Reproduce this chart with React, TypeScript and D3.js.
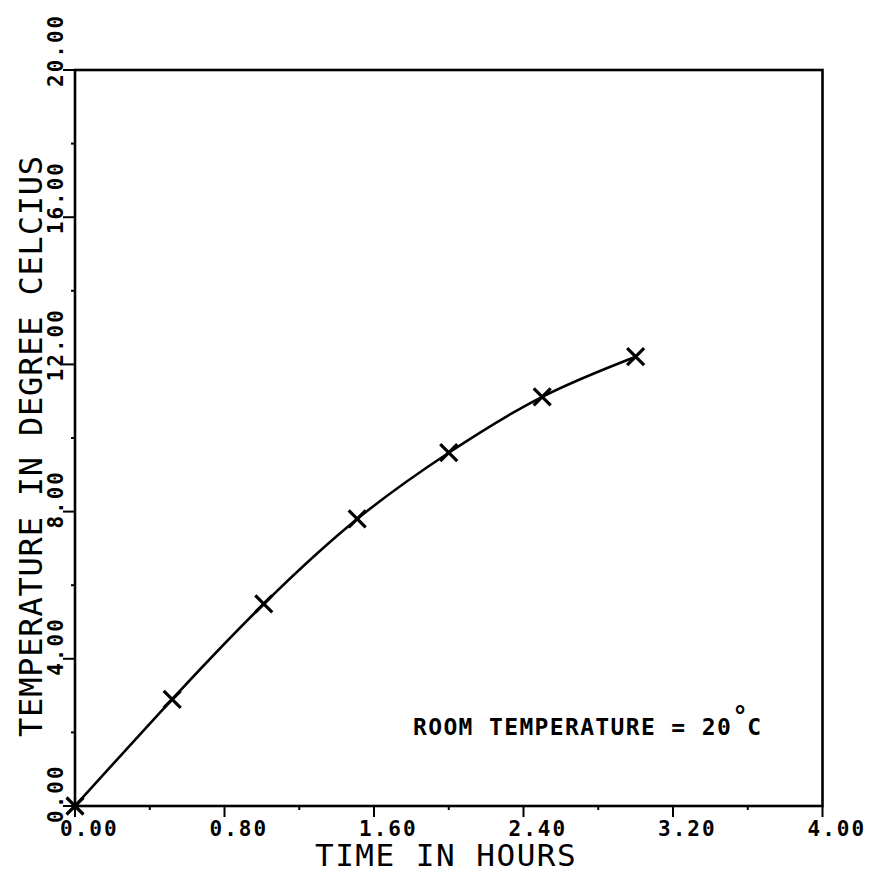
import React from "react";
import * as d3 from "d3";

const timeHours = [0, 0.52, 1.01, 1.51, 2.0, 2.5, 3.0];
const temperatureC = [0, 2.9, 5.49, 7.8, 9.6, 11.12, 12.21];
const xTickValues = [0, 0.8, 1.6, 2.4, 3.2, 4.0];
const xMinorValues = [0.4, 1.2, 2.0, 2.8, 3.6];
const yTickValues = [0, 4, 8, 12, 16, 20];
const yMinorValues = [2, 6, 10, 14, 18];
const xTitle = "TIME IN HOURS";
const yTitle = "TEMPERATURE IN DEGREE CELCIUS";
const noteText = "ROOM TEMPERATURE = 20";

const W = 877;
const H = 876;
const FONT = "'DejaVu Sans Mono', monospace";

export default function App() {
  const x = d3.scaleLinear().domain([0, 4]).range([75, 822.5]);
  const y = d3.scaleLinear().domain([0, 20]).range([806, 70]);
  const pts = timeHours.map((t, i) => [t, temperatureC[i]] as [number, number]);
  const line = d3
    .line<[number, number]>()
    .x((d) => x(d[0]))
    .y((d) => y(d[1]))
    .curve(d3.curveNatural);
  const m = 8.5;
  const sw = 2.6;
  return (
    <div style={{ position: "absolute", left: 0, top: 0 }}>
      <svg width={W} height={H} viewBox={`0 0 ${W} ${H}`} style={{ display: "block", background: "#fff" }}>
        <rect x={0} y={0} width={W} height={H} fill="#fff" />
        {/* frame */}
        <rect x={x(0)} y={y(20)} width={x(4) - x(0)} height={y(0) - y(20)} fill="none" stroke="#000" strokeWidth={sw} />
        {/* x major ticks */}
        {xTickValues.map((v) => (
          <line key={"xt" + v} x1={x(v)} x2={x(v)} y1={y(0)} y2={y(0) + 11} stroke="#000" strokeWidth={2} />
        ))}
        {xMinorValues.map((v) => (
          <line key={"xm" + v} x1={x(v)} x2={x(v)} y1={y(0)} y2={y(0) + 4} stroke="#000" strokeWidth={2} />
        ))}
        {yTickValues.map((v) => (
          <line key={"yt" + v} x1={x(0) - 12} x2={x(0)} y1={y(v)} y2={y(v)} stroke="#000" strokeWidth={2} />
        ))}
        {yMinorValues.map((v) => (
          <line key={"ym" + v} x1={x(0) - 4} x2={x(0)} y1={y(v)} y2={y(v)} stroke="#000" strokeWidth={2} />
        ))}
        {/* x tick labels */}
        {xTickValues.map((v) => (
          <text
            key={"xl" + v}
            x={x(v) - 15}
            y={836}
            fontFamily={FONT}
            fontSize={21}
            fontWeight="bold"
            letterSpacing={2}
            fill="#000"
          >
            {v.toFixed(2)}
          </text>
        ))}
        {/* y tick labels */}
        {yTickValues.map((v) => (
          <text
            key={"yl" + v}
            transform={`translate(63,${y(v) + 17}) rotate(-90)`}
            fontFamily={FONT}
            fontSize={21}
            fontWeight="bold"
            letterSpacing={2}
            fill="#000"
          >
            {v.toFixed(2)}
          </text>
        ))}
        {/* titles */}
        <text x={315} y={866} fontFamily={FONT} fontSize={31} letterSpacing={1.5} fill="#000">
          {xTitle}
        </text>
        <text
          transform={`translate(42,737) rotate(-90)`}
          fontFamily={FONT}
          fontSize={32}
          letterSpacing={0.8}
          fill="#000"
        >
          {yTitle}
        </text>
        {/* note */}
        <text x={413} y={735} fontFamily={FONT} fontSize={23} fontWeight="bold" letterSpacing={1.35} fill="#000">
          {noteText}
          <tspan dx={0} dy={-10} fontSize={26}>°</tspan>
          <tspan dx={-2} dy={10}>C</tspan>
        </text>
        {/* curve */}
        <path d={line(pts) || ""} fill="none" stroke="#000" strokeWidth={2.6} />
        {/* markers */}
        {pts.map((p, i) => (
          <g key={"mk" + i} transform={`translate(${x(p[0])},${y(p[1])})`} stroke="#000" strokeWidth={3.2}>
            <line x1={-m} y1={-m} x2={m} y2={m} />
            <line x1={-m} y1={m} x2={m} y2={-m} />
          </g>
        ))}
      </svg>
    </div>
  );
}
